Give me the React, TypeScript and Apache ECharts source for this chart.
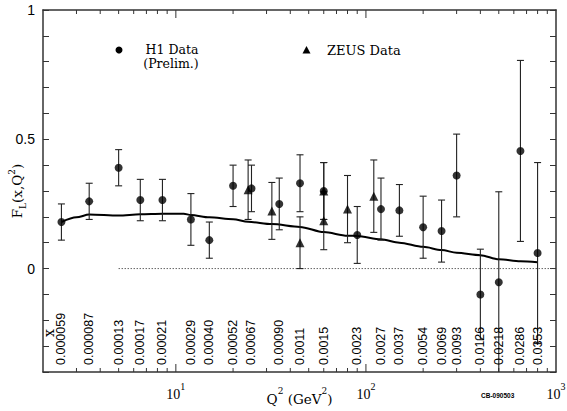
import React, { useEffect, useRef } from "react";
import * as echarts from "echarts";

// ---- data ----
const h1Q2 = [2.5, 3.5, 5.0, 6.5, 8.5, 12, 15, 20, 25, 35, 45, 60, 90, 120, 150, 200, 250, 300, 400, 500, 650, 800];
const h1FL = [0.18, 0.26, 0.39, 0.265, 0.265, 0.19, 0.11, 0.32, 0.31, 0.25, 0.33, 0.30, 0.13, 0.23, 0.225, 0.16, 0.145, 0.36, -0.10, -0.053, 0.455, 0.06];
const h1Err = [0.07, 0.07, 0.07, 0.08, 0.08, 0.10, 0.07, 0.08, 0.09, 0.10, 0.11, 0.11, 0.11, 0.12, 0.10, 0.12, 0.12, 0.16, 0.175, 0.35, 0.35, 0.35];
const xLabels = ["0.000059", "0.000087", "0.00013", "0.00017", "0.00021", "0.00029", "0.00040", "0.00052", "0.00067", "0.00090", "0.0011", "0.0015", "0.0023", "0.0027", "0.0037", "0.0054", "0.0069", "0.0093", "0.0126", "0.0218", "0.0286", "0.0353"];

const zeusQ2 = [24, 32, 45, 60, 60, 80, 110];
const zeusFL = [0.305, 0.223, 0.10, 0.30, 0.185, 0.23, 0.28];
const zeusErr = [0.115, 0.11, 0.10, 0.11, 0.112, 0.13, 0.14];

const theoryQ2 = [2.5, 3.0, 3.5, 5, 6.5, 8.5, 11, 12, 15, 20, 24, 32, 45, 60, 80, 90, 120, 150, 200, 250, 300, 400, 500, 650, 800];
const theoryFL = [0.18, 0.198, 0.209, 0.205, 0.21, 0.212, 0.212, 0.207, 0.198, 0.191, 0.181, 0.172, 0.161, 0.141, 0.127, 0.126, 0.113, 0.1, 0.084, 0.072, 0.061, 0.052, 0.036, 0.028, 0.024];

const zeroLineQ2 = [5, 1000];
const zeroLineFL = [0, 0];

const xMajorTicks = [10, 100];
const xMinorTicks = [3, 4, 5, 6, 7, 8, 9, 20, 30, 40, 50, 60, 70, 80, 90, 200, 300, 400, 500, 600, 700, 800, 900];
const xDecadeLabels: Record<number, string> = { 10: "1", 100: "2", 1000: "3" };
const yLabelValues = [0, 0.5, 1];

const X_MIN = 2;
const X_MAX = 1000;
const Y_MIN = -0.4;
const Y_MAX = 1;

const TYPE = "DejaVu Serif";
const SANS = "Liberation Sans";
const SERIF = "Liberation Serif";

function errRender(_params: any, api: any) {
  const x = api.value(0);
  const y = api.value(1);
  const e = api.value(2);
  const lo = Math.max(y - e, Y_MIN);
  const hi = Math.min(y + e, Y_MAX);
  const pLo = api.coord([x, lo]);
  const pHi = api.coord([x, hi]);
  const st = { stroke: "#222", lineWidth: 1.1 };
  const children: any[] = [
    { type: "line", shape: { x1: pLo[0], y1: pLo[1], x2: pHi[0], y2: pHi[1] }, style: st },
  ];
  const w = 3.5;
  if (y - e >= Y_MIN) children.push({ type: "line", shape: { x1: pLo[0] - w, y1: pLo[1], x2: pLo[0] + w, y2: pLo[1] }, style: st });
  if (y + e <= Y_MAX) children.push({ type: "line", shape: { x1: pHi[0] - w, y1: pHi[1], x2: pHi[0] + w, y2: pHi[1] }, style: st });
  return { type: "group", children };
}

function tickRender(_params: any, api: any) {
  const v = api.value(0);
  const len = api.value(1) ? 8 : 4;
  const b = api.coord([v, Y_MIN]);
  const t = api.coord([v, Y_MAX]);
  const st = { stroke: "#333", lineWidth: 1 };
  return {
    type: "group",
    children: [
      { type: "line", shape: { x1: b[0], y1: b[1], x2: b[0], y2: b[1] - len }, style: st },
      { type: "line", shape: { x1: t[0], y1: t[1], x2: t[0], y2: t[1] + len }, style: st },
    ],
  };
}

function xLabelRender(params: any, api: any) {
  const v = api.value(0);
  const p = api.coord([v, Y_MIN]);
  return {
    type: "text",
    x: p[0],
    y: p[1] - 7,
    rotation: Math.PI / 2,
    style: {
      text: xLabels[params.dataIndex],
      fontSize: 12.5,
      fontFamily: SANS,
      fill: "#000",
      align: "left",
      verticalAlign: "middle",
    },
  };
}

export default function App() {
  const ref = useRef<HTMLDivElement>(null);
  useEffect(() => {
    if (!ref.current) return;
    const chart = echarts.init(ref.current, undefined, { renderer: "svg" });
    const tickData = [
      ...xMajorTicks.map((v) => [v, 1]),
      ...xMinorTicks.map((v) => [v, 0]),
    ];
    const axisLine = { show: true, onZero: false, lineStyle: { color: "#333", width: 1.5 } };
    const option: any = {
      animation: false,
      backgroundColor: "#fff",
      grid: { left: 43, right: 11, top: 10, bottom: 39, containLabel: false, outerBoundsMode: "none" },
      xAxis: [
        {
          type: "log",
          logBase: 10,
          min: X_MIN,
          max: X_MAX,
          splitNumber: 3,
          axisLine,
          axisTick: { show: false },
          splitLine: { show: false },
          axisLabel: {
            margin: 9,
            fontSize: 14,
            fontFamily: SERIF,
            color: "#000",
            formatter: (v: number) => {
              const k = Math.round(v);
              const s = xDecadeLabels[k];
              return s && Math.abs(v - k) < 1e-6 ? `{b|10}{s|${s}}` : "";
            },
            rich: {
              b: { fontSize: 14, fontFamily: SERIF, color: "#000", lineHeight: 20, verticalAlign: "bottom" },
              s: { fontSize: 10, fontFamily: SERIF, color: "#000", lineHeight: 10, verticalAlign: "top" },
            },
          },
          name: "{t|Q}{s|2}{t| (GeV}{s|2}{t|)}",
          nameLocation: "middle",
          nameGap: 14,
          nameMoveOverlap: false,
          nameTextStyle: {
            rich: {
              t: { fontSize: 13.5, fontFamily: TYPE, color: "#000", lineHeight: 20, verticalAlign: "bottom" },
              s: { fontSize: 9, fontFamily: TYPE, color: "#000", lineHeight: 9, verticalAlign: "top" },
            },
          },
        },
        {
          type: "log",
          logBase: 10,
          min: X_MIN,
          max: X_MAX,
          position: "top",
          axisLine,
          axisTick: { show: false },
          axisLabel: { show: false },
          splitLine: { show: false },
        },
      ],
      yAxis: [
        {
          type: "value",
          min: Y_MIN,
          max: Y_MAX,
          interval: 0.1,
          axisLine,
          axisTick: { show: true, inside: true, length: 6, lineStyle: { color: "#333" } },
          splitLine: { show: false },
          axisLabel: {
            margin: 8,
            fontSize: 14,
            fontFamily: SANS,
            color: "#000",
            formatter: (v: number) => {
              const m = yLabelValues.find((t) => Math.abs(t - v) < 1e-6);
              return m === undefined ? "" : String(m);
            },
          },
          name: "{t|F}{d|L}{t|(x,Q}{s|2}{t|)}",
          nameLocation: "middle",
          nameGap: 16,
          nameRotate: 90,
          nameMoveOverlap: false,
          nameTextStyle: {
            rich: {
              t: { fontSize: 13.5, fontFamily: TYPE, color: "#000", lineHeight: 20, verticalAlign: "middle" },
              s: { fontSize: 9, fontFamily: TYPE, color: "#000", lineHeight: 9, verticalAlign: "top" },
              d: { fontSize: 9, fontFamily: TYPE, color: "#000", lineHeight: 9, verticalAlign: "bottom" },
            },
          },
        },
        {
          type: "value",
          min: Y_MIN,
          max: Y_MAX,
          interval: 0.1,
          position: "right",
          axisLine,
          axisTick: { show: true, inside: true, length: 6, lineStyle: { color: "#333" } },
          axisLabel: { show: false },
          splitLine: { show: false },
        },
      ],
      series: [
        {
          type: "custom",
          name: "ticks",
          renderItem: tickRender,
          data: tickData,
          encode: { x: 0 },
          silent: true,
          z: 1,
        },
        {
          type: "line",
          name: "zero",
          data: zeroLineQ2.map((q, i) => [q, zeroLineFL[i]]),
          symbol: "none",
          lineStyle: { color: "#444", width: 1, type: [1.2, 1.8] },
          z: 1,
        },
        {
          type: "line",
          name: "theory",
          data: theoryQ2.map((q, i) => [q, theoryFL[i]]),
          symbol: "none",
          smooth: 0.3,
          smoothMonotone: "x",
          lineStyle: { color: "#000", width: 2 },
          z: 2,
        },
        {
          type: "custom",
          name: "h1err",
          renderItem: errRender,
          data: h1Q2.map((q, i) => [q, h1FL[i], h1Err[i]]),
          encode: { x: 0, y: 1 },
          z: 3,
        },
        {
          type: "custom",
          name: "zeuserr",
          renderItem: errRender,
          data: zeusQ2.map((q, i) => [q, zeusFL[i], zeusErr[i]]),
          encode: { x: 0, y: 1 },
          z: 3,
        },
        {
          type: "scatter",
          name: "H1 Data",
          data: h1Q2.map((q, i) => [q, h1FL[i]]),
          symbol: "circle",
          symbolSize: 8,
          itemStyle: { color: "#000" },
          z: 4,
        },
        {
          type: "scatter",
          name: "ZEUS Data",
          data: zeusQ2.map((q, i) => [q, zeusFL[i]]),
          symbol: "triangle",
          symbolSize: 9,
          itemStyle: { color: "#000" },
          z: 4,
        },
        {
          type: "custom",
          name: "xlabels",
          renderItem: xLabelRender,
          data: h1Q2.map((q) => [q, Y_MIN]),
          encode: { x: 0, y: 1 },
          silent: true,
          z: 5,
        },
      ],
      graphic: [
        { type: "circle", shape: { cx: 119, cy: 50, r: 3.5 }, style: { fill: "#000" } },
        {
          type: "text", x: 172, y: 49.5,
          style: { text: "H1 Data", fontSize: 12.5, fontFamily: TYPE, fill: "#000", align: "center", verticalAlign: "middle" },
        },
        {
          type: "text", x: 171, y: 63.5,
          style: { text: "(Prelim.)", fontSize: 12.5, fontFamily: TYPE, fill: "#000", align: "center", verticalAlign: "middle" },
        },
        { type: "polygon", shape: { points: [[302.5, 53.5], [310.5, 53.5], [306.5, 46]] }, style: { fill: "#000" } },
        {
          type: "text", x: 327, y: 50,
          style: { text: "ZEUS Data", fontSize: 13, fontFamily: TYPE, fill: "#000", align: "left", verticalAlign: "middle" },
        },
        {
          type: "text", x: 49, y: 333, rotation: Math.PI / 2,
          style: { text: "x", fontSize: 14, fontFamily: TYPE, fill: "#000", align: "center", verticalAlign: "middle" },
        },
        {
          type: "text", x: 481, y: 395,
          style: { text: "CB-090503", fontSize: 6.5, fontFamily: SANS, fontWeight: "bold", fill: "#000", align: "left", verticalAlign: "middle" },
        },
      ],
    };
    chart.setOption(option);
    return () => chart.dispose();
  }, []);
  return (
    <div
      ref={ref}
      style={{ position: "absolute", left: 0, top: 0, width: 567, height: 411, background: "#fff" }}
    />
  );
}
